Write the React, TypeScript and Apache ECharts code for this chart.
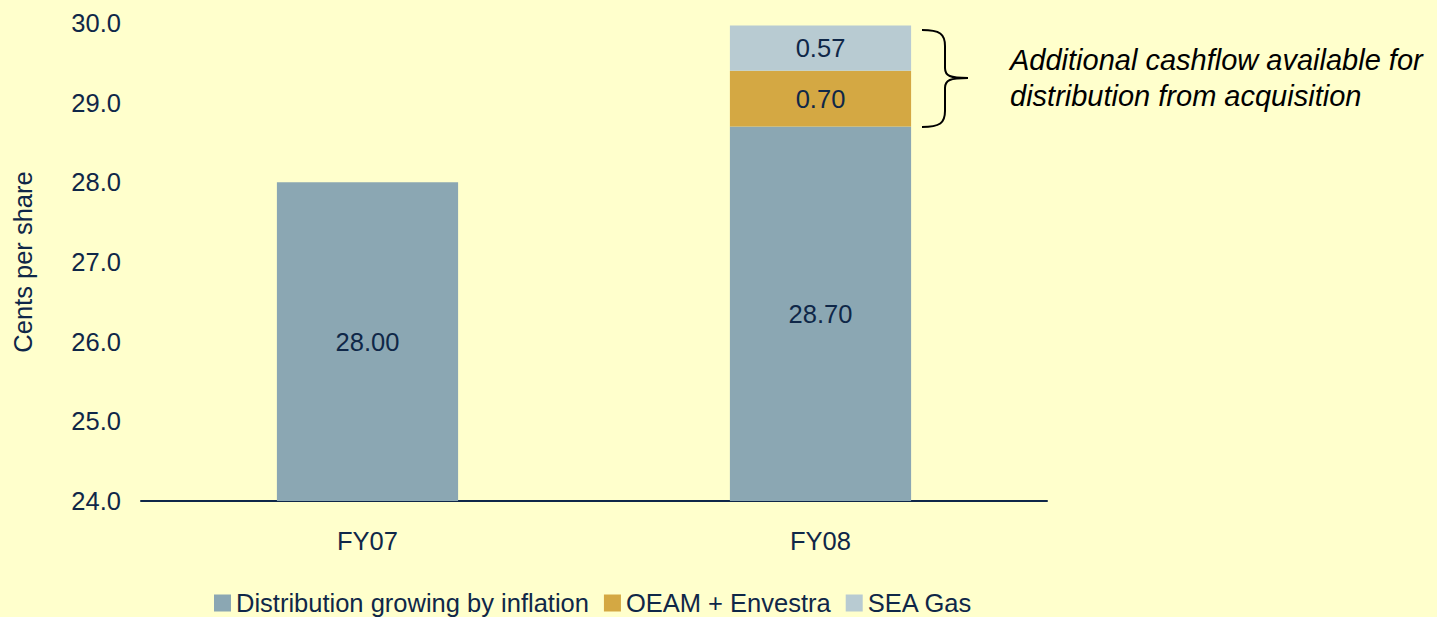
import React, { useEffect, useRef } from "react";
import * as echarts from "echarts";

const categories = ["FY07", "FY08"];
const baseSeries = [28.0, 28.7];
const oeamSeries = [null, 0.7];
const seaGasSeries = [null, 0.57];
const seriesNames = ["Distribution growing by inflation", "OEAM + Envestra", "SEA Gas"];
const annotationLines = ["Additional cashflow available for", "distribution from acquisition"];

const TEXT = "#0F2748";
const FONT = "'Liberation Sans', Arial, sans-serif";

echarts.graphic.registerShape(
  "brace",
  echarts.graphic.extendPath(
    "M0,0 C18,0 23,4 23,16 L23,38 C23,46 28,48 46,48 C28,48 23,50 23,58 L23,81 C23,93 18,97 0,97",
    {}
  )
);

export default function App() {
  const ref = useRef<HTMLDivElement>(null);
  useEffect(() => {
    const chart = echarts.init(ref.current!, null, { renderer: "svg" });
    const label = {
      show: true,
      position: "inside",
      color: TEXT,
      fontSize: 25.5,
      fontFamily: FONT,
      formatter: (p: any) => (p.value == null ? "" : Number(p.value).toFixed(2)),
    };
    chart.setOption({
      animation: false,
      backgroundColor: "#FFFFCC",
      textStyle: { fontFamily: FONT, color: TEXT },
      grid: { left: 141, right: 390, top: 23, bottom: 116 },
      legend: {
        bottom: -4,
        left: 209,
        itemWidth: 17,
        itemHeight: 17,
        itemGap: 15,
        icon: "rect",
        textStyle: { color: TEXT, fontSize: 25.5, fontFamily: FONT },
        data: seriesNames,
      },
      xAxis: {
        type: "category",
        data: categories,
        axisLine: { lineStyle: { color: TEXT, width: 2 } },
        axisTick: { show: false },
        axisLabel: { color: TEXT, fontSize: 25.5, fontFamily: FONT, margin: 27 },
      },
      yAxis: {
        type: "value",
        min: 24,
        max: 30,
        interval: 1,
        name: "Cents per share",
        nameLocation: "middle",
        nameGap: 105,
        nameTextStyle: { color: TEXT, fontSize: 25.5, fontFamily: FONT },
        axisLine: { show: false },
        axisTick: { show: false },
        splitLine: { show: false },
        axisLabel: {
          color: TEXT,
          fontSize: 25.5,
          fontFamily: FONT,
          margin: 20,
          formatter: (v: number) => v.toFixed(1),
        },
      },
      series: [
        {
          name: seriesNames[0],
          type: "bar",
          stack: "total",
          barWidth: "40%",
          data: baseSeries,
          itemStyle: { color: "#8BA7B3" },
          label,
        },
        {
          name: seriesNames[1],
          type: "bar",
          stack: "total",
          data: oeamSeries,
          itemStyle: { color: "#D4A843" },
          label,
        },
        {
          name: seriesNames[2],
          type: "bar",
          stack: "total",
          data: seaGasSeries,
          itemStyle: { color: "#B8CBD2" },
          label,
        },
      ],
      graphic: [
        {
          type: "brace",
          x: 922,
          y: 30,
          shape: {},
          style: { fill: "none", stroke: "#000", lineWidth: 2 },
        },
        {
          type: "text",
          x: 1010,
          y: 42,
          style: {
            text: annotationLines.join("\n"),
            font: `italic 29px ${FONT}`,
            fill: "#000",
            lineHeight: 36,
          },
        },
      ],
    });
    return () => chart.dispose();
  }, []);
  return (
    <div
      ref={ref}
      style={{ position: "absolute", left: 0, top: 0, width: 1437, height: 617 }}
    />
  );
}
